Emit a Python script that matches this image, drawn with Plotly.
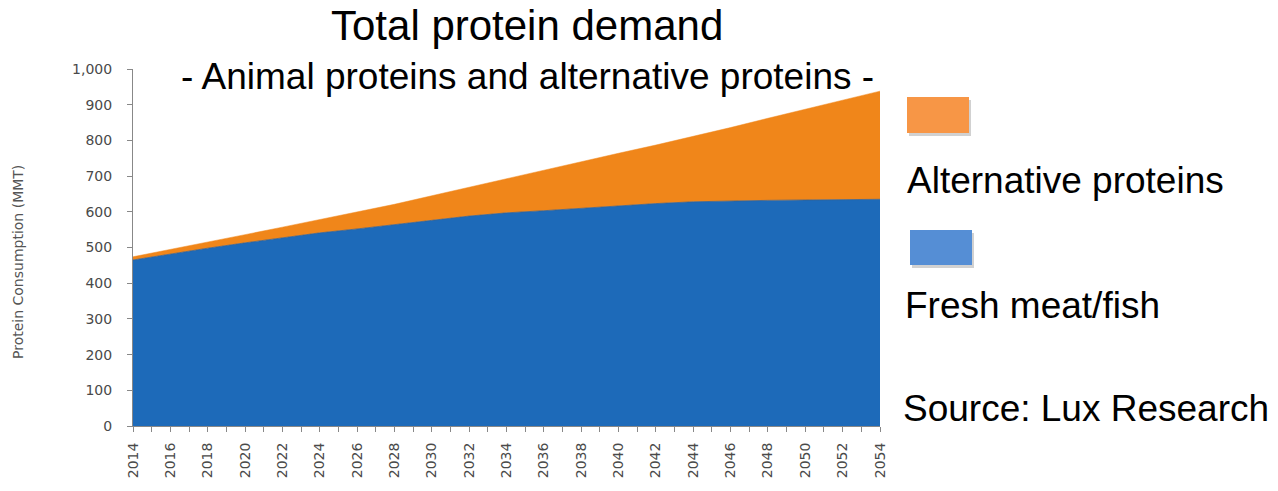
import plotly.graph_objects as go

years = list(range(2014, 2055, 2))
fresh_meat_fish = [465, 482, 498, 513, 527, 541, 552, 563, 576, 588, 597,
                   603, 610, 616, 623, 628, 631, 632, 633, 634, 635]
total_demand = [474, 494, 515, 536, 557, 578, 599, 621, 645, 669, 694,
                718, 741, 764, 787, 811, 836, 862, 887, 912, 938]
alternative = [t - b for t, b in zip(total_demand, fresh_meat_fish)]

y_ticks = [0, 100, 200, 300, 400, 500, 600, 700, 800, 900, 1000]

fig = go.Figure()
fig.add_trace(go.Scatter(x=years, y=fresh_meat_fish, stackgroup="a", mode="lines",
                         line=dict(width=0.8, color="#3a5f8a"), fillcolor="#1D6AB9",
                         name="Fresh meat/fish", showlegend=False))
fig.add_trace(go.Scatter(x=years, y=alternative, stackgroup="a", mode="lines",
                         line=dict(width=0.5, color="#F0861A"), fillcolor="#F0861A",
                         name="Alternative proteins", showlegend=False))

tick_font = dict(family="DejaVu Sans", size=14, color="#4a4a4a")
fig.update_layout(
    width=1278, height=491,
    margin=dict(l=133, r=398, t=69, b=65),
    plot_bgcolor="white", paper_bgcolor="white",
    xaxis=dict(range=[2014, 2054], tickmode="array", tickvals=years,
               ticktext=[str(y) for y in years], tickangle=-90,
               showgrid=False, zeroline=False, showline=True, linecolor="#888888",
               ticks="outside", ticklen=5, tickcolor="#888888", tickfont=tick_font,
               ticklabelstandoff=5,
               minor=dict(dtick=1, ticks="outside", ticklen=5, tickcolor="#888888")),
    yaxis=dict(range=[0, 1000], tickvals=y_ticks, tickformat=",d",
               showgrid=False, zeroline=False, showline=True, linecolor="#888888",
               ticks="outside", ticklen=5, tickcolor="#888888", tickfont=tick_font,
               ticklabelstandoff=12),
    showlegend=False,
)

pw, ph = 1278 - 133 - 398, 491 - 69 - 65

def px(x):
    return (x - 133) / pw

def py(y):
    return (426 - y) / ph

txt = dict(family="Liberation Sans, Arial", color="black")

def label(x, y, text, size, xanchor="left"):
    fig.add_annotation(x=px(x), y=py(y), xref="paper", yref="paper", text=text,
                       showarrow=False, xanchor=xanchor, yanchor="middle",
                       font=dict(size=size, **txt))

label(527, 25, "Total protein demand", 42, "center")
label(527, 76, "- Animal proteins and alternative proteins -", 37, "center")
label(905, 180, "Alternative proteins", 37)
label(903, 305, "Fresh meat/fish", 37)
label(901, 408, "Source: Lux Research", 37)

fig.add_annotation(x=px(18), y=py(262), xref="paper", yref="paper",
                   text="Protein Consumption (MMT)", textangle=-90, showarrow=False,
                   xanchor="center", yanchor="middle",
                   font=dict(family="DejaVu Sans", size=14, color="#555555"))

def rect(x0, y0, x1, y1, color):
    fig.add_shape(type="rect", xref="paper", yref="paper",
                  x0=px(x0 + 2), x1=px(x1 + 2), y0=py(y1 + 3), y1=py(y0 + 3),
                  fillcolor="rgba(0,0,0,0.18)", line=dict(width=0), layer="above")
    fig.add_shape(type="rect", xref="paper", yref="paper",
                  x0=px(x0), x1=px(x1), y0=py(y1), y1=py(y0),
                  fillcolor=color, line=dict(width=0), layer="above")

rect(907, 97, 969, 133, "#F79646")
rect(910, 230, 972, 265, "#558ED5")

fig.write_html("out.html")
